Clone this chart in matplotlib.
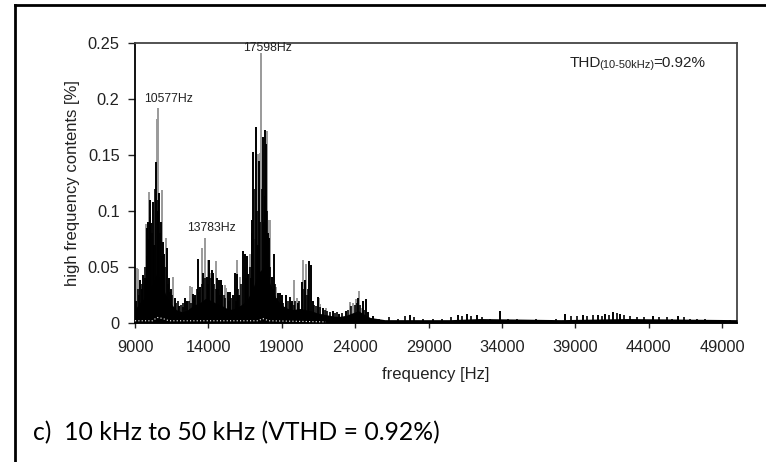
import matplotlib

matplotlib.use("Agg")
import matplotlib.pyplot as plt
from matplotlib.lines import Line2D


OUTPUT_PATH = "out.png"

# x / y axis ranges and ticks
X_TICKS = [9000, 14000, 19000, 24000, 29000, 34000, 39000, 44000, 49000]
Y_TICKS = [0, 0.05, 0.1, 0.15, 0.2, 0.25]
Y_TICK_LABELS = ["0", "0.05", "0.1", "0.15", "0.2", "0.25"]

# gray spectrum lines (frequency [Hz], amplitude [%])
gray_freq = [
    9136, 9225, 9749, 9954, 10500, 10577, 10819, 11091, 11588, 12746,
    12880, 13543, 13783, 13992, 14100, 14517, 15130, 15200, 15927, 16150,
    16500, 16830, 17170, 17370, 17540, 17598, 17987, 18134, 18200, 18420,
    18620, 19300, 19850, 20013, 20422, 20647, 21550, 21600, 22000, 23643,
    23868, 24050, 24277, 24450,
]
gray_amp = [
    0.049, 0.048, 0.088, 0.117, 0.182, 0.192, 0.119, 0.076, 0.041, 0.033,
    0.032, 0.067, 0.076, 0.056, 0.045, 0.055, 0.034, 0.031, 0.056, 0.041,
    0.050, 0.062, 0.075, 0.151, 0.152, 0.241, 0.171, 0.092, 0.092, 0.036,
    0.032, 0.025, 0.038, 0.022, 0.056, 0.053, 0.022, 0.017, 0.013, 0.019,
    0.018, 0.021, 0.029, 0.013,
]

# black spectrum lines (main peaks)
black_freq = [
    9070, 9341, 9450, 9565, 9650, 9797, 9906, 10000, 10090, 10226,
    10300, 10440, 10540, 10655, 10740, 10928, 11000, 11150, 11300, 11450,
    11700, 12000, 12406, 12550, 12930, 13100, 13311, 13450, 13652, 13883,
    14050, 14224, 14300, 14600, 14721, 14837, 14950, 15300, 15470, 15700,
    15811, 15968, 16100, 16376, 16467, 16608, 16700, 16900, 16950, 17070,
    17210, 17350, 17440, 17714, 17823, 17880, 17930, 18040, 18100, 18300,
    18440, 18760, 18850, 19000, 19260, 19530, 19700, 20100, 20354, 20579,
    20872, 20967, 21100, 21485, 21800, 22465, 22900, 23371, 24209, 24529,
    24733, 24900, 25200, 27700, 31000, 31600, 32300, 33870, 38300, 39500,
    40500, 41000, 41540, 42000, 44280, 46000,
]
black_amp = [
    0.020, 0.038, 0.030, 0.043, 0.040, 0.085, 0.090, 0.110, 0.089, 0.108,
    0.070, 0.144, 0.100, 0.116, 0.090, 0.072, 0.062, 0.067, 0.040, 0.030,
    0.022, 0.015, 0.022, 0.020, 0.026, 0.025, 0.057, 0.032, 0.045, 0.041,
    0.056, 0.047, 0.045, 0.040, 0.038, 0.038, 0.034, 0.028, 0.028, 0.025,
    0.045, 0.044, 0.025, 0.064, 0.062, 0.060, 0.044, 0.040, 0.092, 0.153,
    0.175, 0.070, 0.145, 0.166, 0.172, 0.113, 0.160, 0.080, 0.076, 0.041,
    0.062, 0.027, 0.027, 0.025, 0.025, 0.023, 0.020, 0.018, 0.037, 0.038,
    0.055, 0.052, 0.020, 0.023, 0.013, 0.011, 0.008, 0.011, 0.022, 0.020,
    0.021, 0.010, 0.006, 0.007, 0.007, 0.008, 0.007, 0.011, 0.008, 0.007,
    0.007, 0.008, 0.010, 0.008, 0.006, 0.006,
]

# black spectrum lines (smaller components)
black_small_freq = [
    9000, 9200, 9280, 9500, 9700, 9850, 9950, 10050, 10150, 10350,
    10600, 10700, 10850, 11050, 11250, 11350, 11550, 11800, 11900, 12100,
    12250, 12300, 12700, 12800, 13000, 13200, 13350, 13550, 13750, 13950,
    14150, 14400, 14500, 14650, 14800, 15050, 15150, 15400, 15550, 15900,
    16000, 16250, 16550, 16800, 17000, 17130, 17300, 17500, 17650, 17770,
    18000, 18200, 18380, 18550, 18650, 18950, 19100, 19400, 19600, 19800,
    19900, 20200, 20450, 20700, 20800, 21200, 21350, 21600, 21950, 22100,
    22300, 22600, 22750, 23100, 23500, 23700, 23950, 24100, 24350, 24600,
    25600, 26300, 26900, 27400, 28000, 28600, 29300, 29900, 30500, 31300,
    31900, 32600, 33200, 34400, 35000, 35600, 36300, 37000, 37700, 38700,
    39100, 39800, 40200, 40800, 41300, 41800, 42300, 42700, 43200, 43700,
    44700, 45200, 45600, 46400, 46800, 47300, 47800, 48400, 48900, 49500,
]
black_small_amp = [
    0.015, 0.030, 0.025, 0.035, 0.050, 0.060, 0.075, 0.095, 0.080, 0.120,
    0.110, 0.080, 0.060, 0.050, 0.035, 0.028, 0.025, 0.018, 0.020, 0.016,
    0.018, 0.014, 0.020, 0.018, 0.022, 0.030, 0.028, 0.035, 0.040, 0.035,
    0.040, 0.035, 0.030, 0.030, 0.025, 0.025, 0.022, 0.020, 0.022, 0.020,
    0.030, 0.035, 0.040, 0.050, 0.080, 0.120, 0.100, 0.090, 0.120, 0.090,
    0.100, 0.050, 0.030, 0.035, 0.022, 0.020, 0.018, 0.020, 0.018, 0.016,
    0.020, 0.020, 0.030, 0.025, 0.030, 0.016, 0.015, 0.014, 0.012, 0.011,
    0.010, 0.009, 0.010, 0.009, 0.012, 0.015, 0.016, 0.018, 0.016, 0.012,
    0.004, 0.005, 0.004, 0.006, 0.005, 0.004, 0.004, 0.004, 0.005, 0.006,
    0.006, 0.005, 0.004, 0.004, 0.004, 0.003, 0.004, 0.003, 0.004, 0.006,
    0.006, 0.006, 0.007, 0.006, 0.007, 0.009, 0.007, 0.006, 0.005, 0.005,
    0.005, 0.005, 0.004, 0.005, 0.004, 0.004, 0.004, 0.003, 0.003, 0.003,
]

# dense noise floor (upper envelope)
floor_freq = [
    9000, 9300, 9600, 9900, 10200, 10500, 10800, 11100, 11400, 11800,
    12200, 12600, 13000, 13400, 13800, 14200, 14600, 15000, 15400, 15800,
    16200, 16600, 17000, 17400, 17800, 18200, 18600, 19000, 19400, 19800,
    20200, 20600, 21000, 21400, 21800, 22200, 22600, 23000, 23400, 23800,
    24200, 24600, 25000, 25500, 26000, 30500, 32500, 38000, 42500, 50000,
]
floor_amp = [
    0.012, 0.018, 0.022, 0.028, 0.035, 0.045, 0.035, 0.025, 0.018, 0.012,
    0.010, 0.012, 0.016, 0.018, 0.022, 0.020, 0.017, 0.015, 0.012, 0.013,
    0.016, 0.020, 0.030, 0.045, 0.050, 0.035, 0.022, 0.016, 0.013, 0.012,
    0.013, 0.012, 0.011, 0.009, 0.008, 0.007, 0.006, 0.006, 0.007, 0.009,
    0.011, 0.008, 0.005, 0.004, 0.003, 0.003, 0.004, 0.003, 0.004, 0.003,
]

# light trace close to zero
white_freq = [9000, 10200, 10500, 10900, 11300, 17400, 17700, 18100, 22000]
white_amp = [0.002, 0.002, 0.005, 0.004, 0.002, 0.002, 0.004, 0.002, 0.001]

# peak labels (text, x, y)
peak_labels = [
    ("17598Hz", 18020, 0.2455),
    ("10577Hz", 11280, 0.200),
    ("13783Hz", 14210, 0.085),
]

CAPTION = "c)  10 kHz to 50 kHz (VTHD = 0.92%)"


def main() -> None:
    plt.rcParams["font.family"] = ["Liberation Sans", "DejaVu Sans"]

    fig = plt.figure(figsize=(7.66, 4.62), dpi=100)
    ax = fig.add_axes([135 / 766, 1 - 323 / 462, 602 / 766, 280 / 462])

    ax.vlines(gray_freq, 0, gray_amp, color="#9a9a9a", linewidth=1.4, zorder=2)
    ax.fill_between(floor_freq, 0, floor_amp, color="black", linewidth=0, zorder=3)
    ax.vlines(black_small_freq, 0, black_small_amp, color="black",
              linewidth=1.2, zorder=4)
    ax.vlines(black_freq, 0, black_amp, color="black", linewidth=1.4, zorder=4)
    ax.plot(white_freq, white_amp, color="white", linewidth=0.8,
            linestyle=(0, (1, 2)), zorder=5)

    ax.set_xlim(9000, 50000)
    ax.set_ylim(0, 0.25)
    ax.set_xticks(X_TICKS)
    ax.set_yticks(Y_TICKS)
    ax.set_yticklabels(Y_TICK_LABELS)
    ax.tick_params(axis="y", direction="out", length=5, width=1, pad=6,
                   labelsize=11.8, colors="#222222")
    ax.tick_params(axis="x", direction="out", length=3.6, width=1, pad=9,
                   labelsize=11.8, colors="#222222")

    for side in ["top", "right"]:
        ax.spines[side].set_color("#444444")
        ax.spines[side].set_linewidth(1.3)
    for side in ["left", "bottom"]:
        ax.spines[side].set_color("black")
        ax.spines[side].set_linewidth(1.3)

    ax.set_xlabel("frequency [Hz]", fontsize=12, color="#222222")
    ax.xaxis.set_label_coords(0.5, -0.157)
    ax.set_ylabel("high frequency contents [%]", fontsize=12, color="#222222")
    ax.yaxis.set_label_coords(-0.091, 0.5)

    for text, x, y in peak_labels:
        ax.text(x, y, text, fontsize=8.8, color="#222222", ha="center", va="center")

    # THD note with small range text
    t1 = ax.text(0.7226, 0.905, "THD", transform=ax.transAxes, fontsize=11,
                 color="#222222", va="bottom")
    t2 = ax.annotate("(10-50kHz)", xy=(1, 0), xycoords=t1, xytext=(-1.5, 0),
                     textcoords="offset points", fontsize=8,
                     color="#222222", va="bottom")
    ax.annotate("=0.92%", xy=(1, 0), xycoords=t2, xytext=(-0.5, 0),
                textcoords="offset points", fontsize=11,
                color="#222222", va="bottom")

    # table cell borders around the figure
    fig.add_artist(Line2D([15 / 766, 1], [1 - 5 / 462, 1 - 5 / 462],
                          transform=fig.transFigure, color="black", linewidth=2))
    fig.add_artist(Line2D([15 / 766, 15 / 766], [0, 1 - 5 / 462],
                          transform=fig.transFigure, color="black", linewidth=2))

    fig.text(33 / 766, 1 - 433 / 462, CAPTION, fontsize=17.8, family="Lato",
             ha="left", va="center", color="black")

    fig.savefig(OUTPUT_PATH, dpi=100)
    plt.close(fig)


if __name__ == "__main__":
    main()
